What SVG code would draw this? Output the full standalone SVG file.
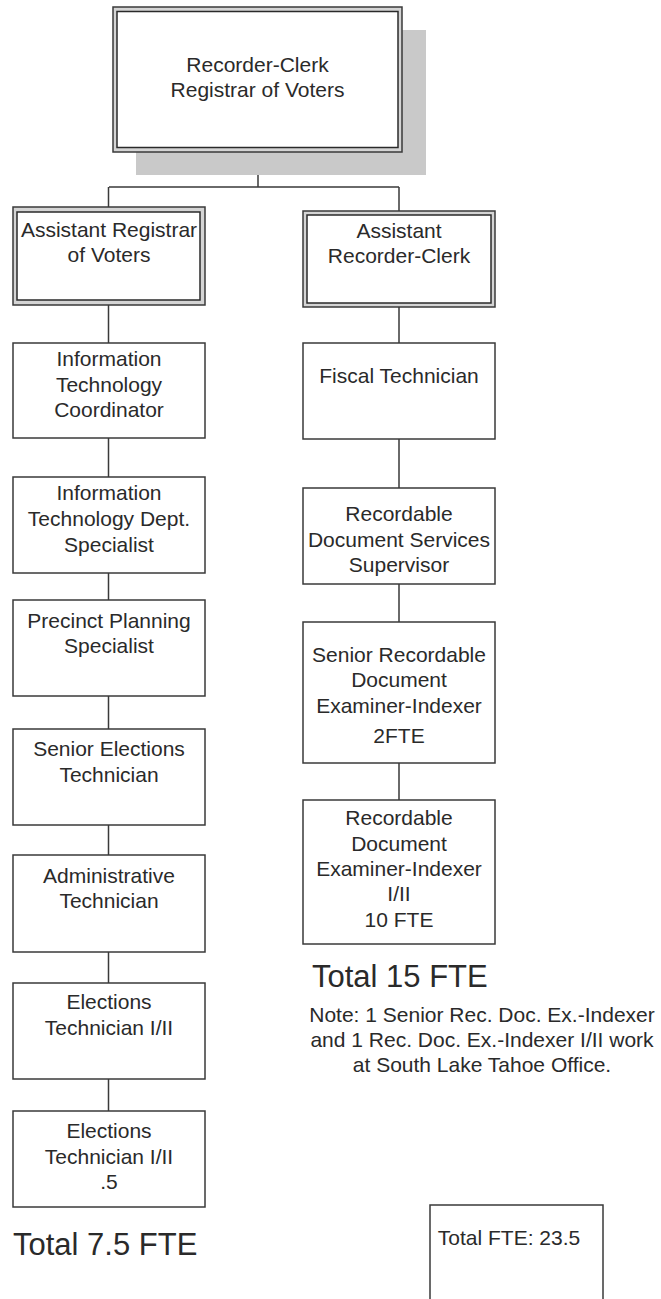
<svg xmlns="http://www.w3.org/2000/svg" width="661" height="1299" viewBox="0 0 661 1299">
<style>
.t{font-family:"Liberation Sans",Arial,sans-serif;font-size:21px;fill:#2a2a2a;text-anchor:middle}
.big{font-family:"Liberation Sans",Arial,sans-serif;font-size:31px;fill:#2a2a2a}
.box{fill:#fff;stroke:#3a3a3a;stroke-width:1.5}
.outer{fill:#d4d4d4;stroke:#3a3a3a;stroke-width:1.5}
.inner{fill:#fff;stroke:#2a2a2a;stroke-width:1.5}
.c{fill:none;stroke:#3a3a3a;stroke-width:1.5}
</style>
<g id="connectors">
<path class="c" d="M258 152V187M109 187H399M108.5 187V207M399 187V211"/>
<path class="c" d="M108.5 305V343M108.5 438V477M108.5 573V600M108.5 696V729M108.5 825V855M108.5 952V983M108.5 1079V1111"/>
<path class="c" d="M399 307V343M399 439V488M399 584V622M399 763V800"/>
</g>
<g id="n-recorder-clerk">
<rect x="136" y="30" width="290" height="145" fill="#c9c9c9"/>
<rect class="outer" x="113" y="7" width="289" height="145"/>
<rect class="inner" x="117" y="11.5" width="281" height="136"/>
<text class="t" x="257.5" y="72">Recorder-Clerk</text>
<text class="t" x="257.5" y="97">Registrar of Voters</text>
</g>
<g id="n-asst-registrar">
<rect class="outer" x="13" y="207" width="192" height="98"/>
<rect class="inner" x="17" y="212" width="183" height="88"/>
<text class="t" x="109" y="237">Assistant Registrar</text>
<text class="t" x="109" y="262">of Voters</text>
</g>
<g id="n-asst-recorder">
<rect class="outer" x="303" y="211" width="192" height="96"/>
<rect class="inner" x="307" y="215" width="184" height="88"/>
<text class="t" x="399" y="238">Assistant</text>
<text class="t" x="399" y="263">Recorder-Clerk</text>
</g>
<g id="n-it-coord">
<rect class="box" x="13" y="343" width="192" height="95"/>
<text class="t" x="109" y="366">Information</text>
<text class="t" x="109" y="392">Technology</text>
<text class="t" x="109" y="417">Coordinator</text>
</g>
<g id="n-it-spec">
<rect class="box" x="13" y="477" width="192" height="96"/>
<text class="t" x="109" y="500">Information</text>
<text class="t" x="109" y="526">Technology Dept.</text>
<text class="t" x="109" y="552">Specialist</text>
</g>
<g id="n-precinct">
<rect class="box" x="13" y="600" width="192" height="96"/>
<text class="t" x="109" y="628">Precinct Planning</text>
<text class="t" x="109" y="653">Specialist</text>
</g>
<g id="n-senior-elections">
<rect class="box" x="13" y="729" width="192" height="96"/>
<text class="t" x="109" y="756">Senior Elections</text>
<text class="t" x="109" y="782">Technician</text>
</g>
<g id="n-admin">
<rect class="box" x="13" y="855" width="192" height="97"/>
<text class="t" x="109" y="883">Administrative</text>
<text class="t" x="109" y="908">Technician</text>
</g>
<g id="n-elections-1">
<rect class="box" x="13" y="983" width="192" height="96"/>
<text class="t" x="109" y="1009">Elections</text>
<text class="t" x="109" y="1035">Technician I/II</text>
</g>
<g id="n-elections-2">
<rect class="box" x="13" y="1111" width="192" height="96"/>
<text class="t" x="109" y="1138">Elections</text>
<text class="t" x="109" y="1164">Technician I/II</text>
<text class="t" x="109" y="1189">.5</text>
</g>
<g id="total-left">
<text class="big" x="13" y="1255">Total 7.5 FTE</text>
</g>
<g id="n-fiscal">
<rect class="box" x="303" y="343" width="192" height="96"/>
<text class="t" x="399" y="383">Fiscal Technician</text>
</g>
<g id="n-rdss">
<rect class="box" x="303" y="488" width="192" height="96"/>
<text class="t" x="399" y="521">Recordable</text>
<text class="t" x="399" y="547">Document Services</text>
<text class="t" x="399" y="572">Supervisor</text>
</g>
<g id="n-senior-rdei">
<rect class="box" x="303" y="622" width="192" height="141"/>
<text class="t" x="399" y="662">Senior Recordable</text>
<text class="t" x="399" y="687">Document</text>
<text class="t" x="399" y="713">Examiner-Indexer</text>
<text class="t" x="399" y="743">2FTE</text>
</g>
<g id="n-rdei">
<rect class="box" x="303" y="800" width="192" height="144"/>
<text class="t" x="399" y="825">Recordable</text>
<text class="t" x="399" y="851">Document</text>
<text class="t" x="399" y="876">Examiner-Indexer</text>
<text class="t" x="399" y="901">I/II</text>
<text class="t" x="399" y="927">10 FTE</text>
</g>
<g id="total-right">
<text class="big" x="312" y="987">Total 15 FTE</text>
<text class="t" x="482" y="1022">Note: 1 Senior Rec. Doc. Ex.-Indexer</text>
<text class="t" x="482" y="1047">and 1 Rec. Doc. Ex.-Indexer I/II work</text>
<text class="t" x="482" y="1072">at South Lake Tahoe Office.</text>
</g>
<g id="n-total">
<rect class="box" x="430" y="1205" width="173" height="120"/>
<text class="t" x="509" y="1245">Total FTE: 23.5</text>
</g>
</svg>
